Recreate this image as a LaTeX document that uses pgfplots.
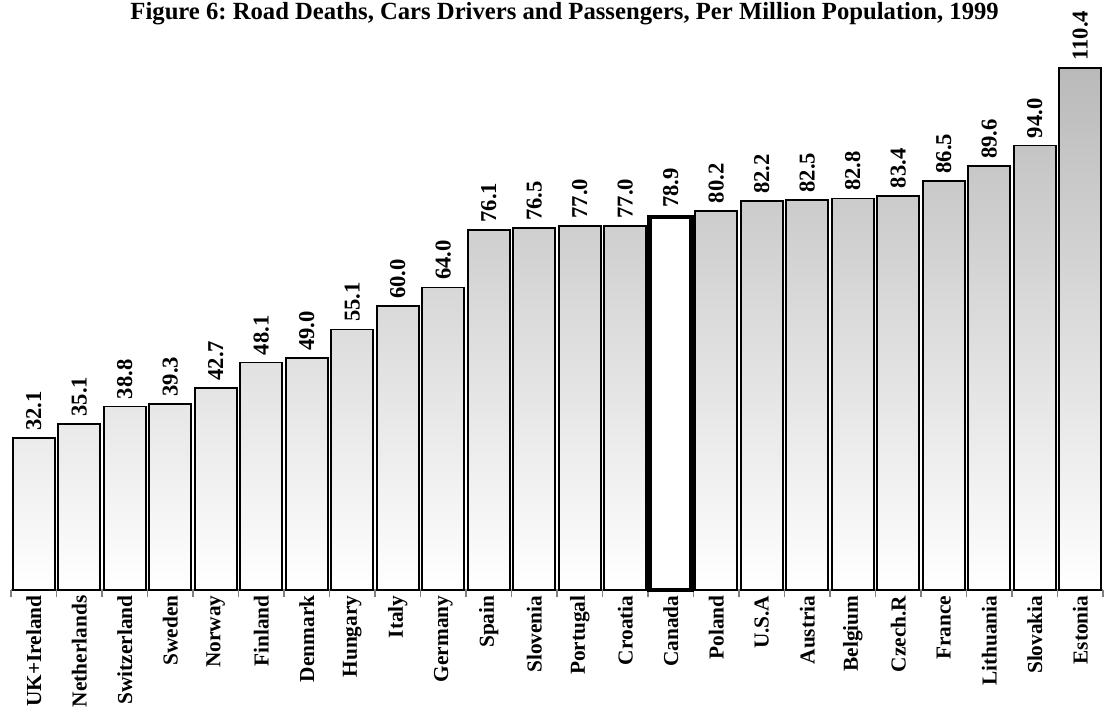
\documentclass[border=0pt]{standalone}
\usepackage{fontspec}
\setmainfont{Liberation Serif}
\usepackage{pgfplots}
\pgfplotsset{compat=1.18}
\definecolor{bartop}{RGB}{186,186,186}
\definecolor{axisgray}{RGB}{128,128,128}
\frenchspacing
\begin{document}
\begin{tikzpicture}
\begin{axis}[
    name=ax,
    scale only axis,
    width=819pt, height=391.5pt,
    xmin=-0.5, xmax=23.5,
    ymin=0, ymax=110.4,
    clip=false,
    axis y line=none,
    axis x line*=bottom,
    x axis line style={axisgray, line width=0.8pt},
    ybar, bar width=31.5pt,
    xtick={0,...,23},
    xticklabels={UK+Ireland, Netherlands, Switzerland, Sweden, Norway, Finland,
      Denmark, Hungary, Italy, Germany, Spain, Slovenia, Portugal, Croatia,
      Canada, Poland, U.S.A, Austria, Belgium, Czech.R, France, Lithuania,
      Slovakia, Estonia},
    minor xtick={-0.5,0.5,...,23.5},
    major tick length=0pt,
    minor tick length=5pt,
    tick align=outside,
    tick style={axisgray, line width=0.8pt},
    xticklabel style={rotate=90, anchor=east, font=\fontsize{16}{19}\selectfont\bfseries, inner sep=4pt},
    nodes near coords,
    every node near coord/.append style={rotate=90, anchor=west, inner sep=5pt,
      font=\fontsize{17}{20}\selectfont\bfseries, black},
    /pgf/number format/.cd, fixed, fixed zerofill, precision=1, assume math mode=true,
    /pgfplots/.cd,
    title={Figure 6: Road Deaths, Cars Drivers and Passengers, Per Million Population, 1999},
    title style={at={(0.507,1)}, anchor=base, yshift=30pt, font=\fontsize{18.5}{22}\selectfont\bfseries},
]
\addplot[bar shift=0pt, draw=black, line width=1.3pt, top color=bartop, bottom color=white]
  coordinates {(0,32.1) (1,35.1) (2,38.8) (3,39.3) (4,42.7) (5,48.1) (6,49.0)
    (7,55.1) (8,60.0) (9,64.0) (10,76.1) (11,76.5) (12,77.0) (13,77.0)
    (15,80.2) (16,82.2) (17,82.5) (18,82.8) (19,83.4) (20,86.5) (21,89.6)
    (22,94.0) (23,110.4)};
\addplot[bar shift=0pt, draw=black, line width=3.6pt, fill=white]
  coordinates {(14,78.9)};
\end{axis}
\pgfresetboundingbox
\path[use as bounding box] ([xshift=-8.25pt,yshift=-90pt]ax.south west) rectangle ++(828.75pt,532.5pt);
\end{tikzpicture}
\end{document}
